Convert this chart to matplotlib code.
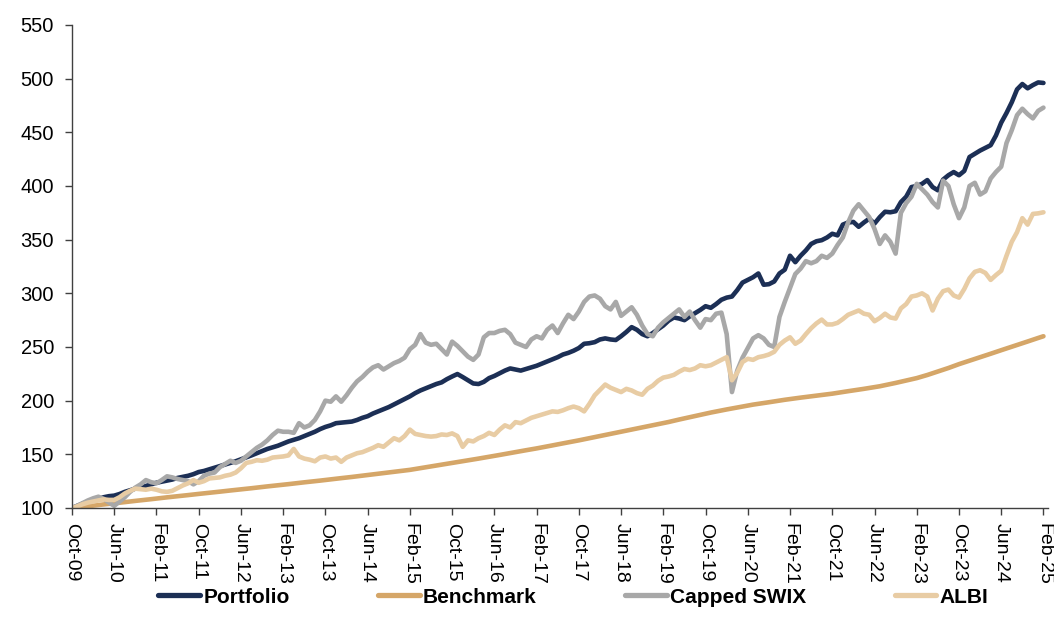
import numpy as np
import matplotlib
matplotlib.use("Agg")
import matplotlib.pyplot as plt

# ---------------- data (monthly, Oct-09 .. Feb-25) ----------------
tick_labels = ["Oct-09", "Jun-10", "Feb-11", "Oct-11", "Jun-12", "Feb-13", "Oct-13",
               "Jun-14", "Feb-15", "Oct-15", "Jun-16", "Feb-17", "Oct-17", "Jun-18",
               "Feb-19", "Oct-19", "Jun-20", "Feb-21", "Oct-21", "Jun-22", "Feb-23",
               "Oct-23", "Jun-24", "Feb-25"]

portfolio = [
    100, 102, 104, 105.5, 107, 108.5, 110, 111, 111.5, 113,
    115, 116.5, 118, 119, 120.5, 122, 123.5, 124.5, 125.5, 126.5,
    128, 129, 130, 131.5, 133.5, 134.5, 136, 137.5, 139, 140.5,
    142, 143.5, 145.3, 147, 149, 151, 153, 155, 156.5, 158,
    160, 162, 163.5, 165, 167, 169, 171, 173.5, 175.5, 177,
    179, 179.5, 180, 180.5, 182, 184, 185.5, 188, 190, 192,
    194, 196.5, 199, 201.5, 204, 207, 209.5, 211.5, 213.5, 215.5,
    217, 220, 222.5, 224.8, 222, 219, 216, 215.5, 217.5, 221,
    223, 225.5, 228, 230, 229, 228, 229.5, 231, 232.5, 234.5,
    236.5, 238.5, 240.5, 243, 244.5, 246.5, 249, 253, 253.5, 254.5,
    257, 258, 257, 256.5, 260, 264, 268.5, 266, 262, 260,
    263, 266.5, 270, 274.5, 277.5, 276.5, 275, 278.5, 281.5, 284.5,
    288, 286.5, 290, 294, 296, 297, 303, 310, 312.5, 315,
    318.5, 308, 308.5, 311, 318.5, 322, 335, 329, 335, 340,
    346, 348.5, 349.5, 352, 355.5, 354, 364, 366, 366.5, 362,
    366, 369.5, 365, 371, 376, 375.5, 376.5, 385, 390, 399,
    400, 402, 405.5, 399, 396, 406, 410, 413, 410, 414,
    427, 430, 433, 435.5, 438, 447, 459, 468, 478, 490,
    495, 491, 494, 496.5, 496,
]

benchmark = [
    100.0, 100.5, 101.1, 101.6, 102.2, 102.7, 103.3, 103.8, 104.4, 104.9,
    105.5, 106.0, 106.6, 107.1, 107.7, 108.2, 108.8, 109.3, 109.9, 110.4,
    111.0, 111.5, 112.0, 112.6, 113.1, 113.6, 114.2, 114.7, 115.2, 115.8,
    116.3, 116.8, 117.4, 117.9, 118.4, 119.0, 119.5, 120.1, 120.6, 121.1,
    121.7, 122.2, 122.8, 123.3, 123.9, 124.4, 125.0, 125.5, 126.1, 126.6,
    127.2, 127.8, 128.3, 128.9, 129.5, 130.0, 130.6, 131.2, 131.8, 132.4,
    133.0, 133.6, 134.2, 134.8, 135.5, 136.3, 137.1, 137.9, 138.7, 139.5,
    140.4, 141.2, 142.0, 142.8, 143.6, 144.4, 145.2, 146.0, 146.9, 147.7,
    148.5, 149.4, 150.3, 151.1, 152.0, 152.9, 153.8, 154.6, 155.5, 156.4,
    157.4, 158.3, 159.3, 160.2, 161.1, 162.1, 163.0, 164.0, 165.0, 166.0,
    167.0, 168.0, 169.0, 170.0, 171.0, 172.0, 173.0, 174.0, 175.0, 176.0,
    177.0, 178.0, 179.0, 180.1, 181.3, 182.4, 183.5, 184.6, 185.8, 186.9,
    188.0, 188.9, 189.9, 190.8, 191.8, 192.7, 193.6, 194.6, 195.5, 196.3,
    197.0, 197.8, 198.5, 199.3, 200.0, 200.8, 201.5, 202.1, 202.8, 203.4,
    204.0, 204.6, 205.3, 205.9, 206.5, 207.3, 208.0, 208.8, 209.5, 210.3,
    211.0, 211.8, 212.5, 213.4, 214.4, 215.4, 216.5, 217.6, 218.7, 219.8,
    221.0, 222.4, 223.9, 225.5, 227.1, 228.7, 230.4, 232.2, 234.0, 235.6,
    237.2, 238.8, 240.5, 242.1, 243.7, 245.4, 247.0, 248.6, 250.2, 251.9,
    253.5, 255.1, 256.8, 258.4, 260.0,
]

capped_swix = [
    100, 102, 104.5, 107, 109, 110.5, 108.5, 105, 102, 106,
    110, 115, 119, 122, 126, 124, 123, 126, 129.5, 128.5,
    127, 126, 125, 122, 125, 130, 132, 133, 138, 141,
    144, 142, 144, 148, 152, 156, 159, 163, 168, 172,
    171, 171, 170, 179, 175, 177, 182, 190, 200, 199,
    204, 199, 205, 212, 218, 222, 227, 231, 233, 229,
    232, 235, 237, 240, 248, 252, 262, 254, 252, 253,
    248, 243, 255, 251, 246, 241, 238, 243, 259, 263,
    263, 265, 266, 262, 254, 252, 250, 257, 260, 258,
    266, 270, 263, 272, 280, 276, 283, 292, 297, 298,
    295, 288, 285, 292, 279, 283, 287, 280, 270, 262,
    260, 268, 273, 277, 281, 285, 278, 283, 275, 268,
    276, 275, 281, 282, 262, 208, 228, 240, 249, 258,
    261, 258, 252, 250, 278, 292, 305, 318, 323, 330,
    328, 330, 335, 333, 337, 345, 352, 366, 377, 383,
    377, 371, 360, 346, 354, 348, 337, 375, 384, 390,
    402, 397, 392, 385, 380, 405, 400, 383, 370, 380,
    400, 403, 392, 395, 407, 413, 418, 440, 452, 466,
    472, 467, 463, 470, 473,
]

albi = [
    100, 101.5, 103.5, 105, 106, 107, 108, 107.5, 107.5, 110,
    113.5, 116, 118, 117.5, 117, 118, 117, 115.5, 115, 116,
    118.5, 121, 123, 126, 123.5, 125, 127.5, 128, 128.5, 130,
    131, 133, 137, 142, 143, 144.5, 144, 145, 147, 147.5,
    148, 149, 155, 148, 146, 145, 143.5, 147, 148, 146,
    147, 143, 147, 149, 151, 152, 154, 156, 158.5, 157,
    161, 165, 163, 167, 173, 169, 168, 167, 166.5, 167,
    168.5, 168, 169.5, 167, 157, 163, 162, 165, 167, 170,
    168, 173, 177, 175, 180, 179, 181.5, 184, 185.5, 187,
    188.5, 190, 189.5, 191, 193, 194.5, 193, 190, 197, 205,
    210, 215, 212, 210, 208, 211, 209.5, 207, 205.5, 211,
    214, 218.5, 221.5, 222.5, 224, 227, 229.5, 228.5, 230, 233,
    232, 233, 235.5, 238, 240.5, 219, 226, 236, 239, 238,
    240.5, 241.5, 243, 245.5, 252, 256, 259, 253, 256, 262,
    267.5, 272, 275.5, 271, 271, 272.5, 276, 280, 282, 284,
    281, 280, 274, 277, 281, 277.5, 276.5, 286, 290, 297,
    298, 300, 297, 284, 295, 302, 303.5, 298, 296, 304,
    314, 320, 321.5, 319, 312.5, 317, 321, 335, 348, 357,
    370, 364, 374, 374.5, 375.5,
]

series_names = ["Portfolio", "Benchmark", "Capped SWIX", "ALBI"]
series_colors = ["#1c2f55", "#d5a668", "#a8a8a8", "#e8cca4"]

y_ticks = [100, 150, 200, 250, 300, 350, 400, 450, 500, 550]

# ---------------- plotting ----------------
plt.rcParams["font.family"] = ["Liberation Sans", "DejaVu Sans"]

fig = plt.figure(figsize=(10.54, 6.36), dpi=100)
ax = fig.add_axes([0.0683, 0.2013, 0.9257, 0.7594])

x = np.arange(len(portfolio))
for name, vals, col in zip(series_names,
                           [portfolio, benchmark, capped_swix, albi],
                           series_colors):
    ax.plot(x, vals, color=col, lw=3.3, label=name,
            solid_joinstyle="round", solid_capstyle="round")

ax.set_xlim(0, 184.8)
ax.set_ylim(100, 550)
ax.set_yticks(y_ticks)
ax.set_yticklabels([str(v) for v in y_ticks])

tick_pos = np.arange(0, 8 * len(tick_labels), 8)
ax.set_xticks(tick_pos)
ax.set_xticklabels(tick_labels, rotation=270, ha="center", va="top")

for s in ["top", "right"]:
    ax.spines[s].set_visible(False)
for s in ["left", "bottom"]:
    ax.spines[s].set_color("#404040")
    ax.spines[s].set_linewidth(1.0)

ax.tick_params(axis="y", direction="out", length=5, width=1.0,
               color="#404040", labelsize=14.5, pad=8, labelcolor="black")
ax.tick_params(axis="x", direction="out", length=5, width=1.0,
               color="#404040", labelsize=14, pad=6, labelcolor="black")

leg = fig.legend(loc="center", bbox_to_anchor=(0.544, 0.061), ncol=4,
                 frameon=False, handlelength=2.0, handletextpad=0.15,
                 columnspacing=4.25, prop={"weight": "bold", "size": 15})
for line in leg.get_lines():
    line.set_linewidth(3.8)

fig.savefig("out.png", dpi=100)
